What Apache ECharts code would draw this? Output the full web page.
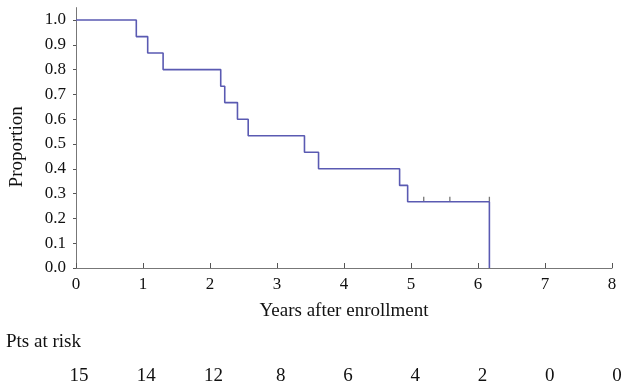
<!DOCTYPE html>
<html><head><meta charset="utf-8">
<script src="https://cdn.jsdelivr.net/npm/echarts@6/dist/echarts.min.js"></script>
<style>html,body{margin:0;padding:0;background:#fff}#c{width:625px;height:388px}</style>
</head><body><div id="c"></div>
<script>
const times = [0, 0.90, 1.07, 1.30, 2.16, 2.22, 2.41, 2.57, 3.41, 3.62, 4.83, 4.95, 6.17, 6.17];
const survival = [1.0, 0.933, 0.867, 0.8, 0.733, 0.667, 0.6, 0.533, 0.467, 0.4, 0.333, 0.267, 0.267, 0.0];
const censorTimes = [5.19, 5.58, 6.17];
const censorValues = [0.267, 0.267, 0.267];
const yTicks = [0, 0.1, 0.2, 0.3, 0.4, 0.5, 0.6, 0.7, 0.8, 0.9, 1.0];
const atRiskYears = [0, 1, 2, 3, 4, 5, 6, 7, 8];
const atRisk = [15, 14, 12, 8, 6, 4, 2, 0, 0];

const font = 'Liberation Serif';
const big = {fontFamily: font, fontSize: 19, color: '#111'};
const tick = {fontFamily: font, fontSize: 17, color: '#111'};
const chart = echarts.init(document.getElementById('c'), null, {renderer: 'canvas'});
chart.setOption({
  animation: false,
  title: {text: 'Pts at risk', left: 6, top: 333, padding: 0,
    textStyle: {fontFamily: font, fontSize: 19, fontWeight: 'normal', color: '#111'}},
  grid: [
    {left: 74, right: 13, top: 7.6, bottom: 120, containLabel: false},
    {left: 79, right: 8, top: 366, height: 1, containLabel: false}
  ],
  xAxis: [
    {type: 'value', gridIndex: 0, min: 0, max: 8, interval: 1,
      name: 'Years after enrollment', nameLocation: 'middle', nameGap: 34,
      nameTextStyle: big,
      axisLine: {lineStyle: {color: '#777', width: 1}},
      axisTick: {inside: true, length: 5, lineStyle: {color: '#555'}},
      axisLabel: Object.assign({margin: 8}, tick),
      splitLine: {show: false}},
    {type: 'value', gridIndex: 1, min: 0, max: 8, interval: 1,
      axisLine: {show: false}, axisTick: {show: false}, splitLine: {show: false},
      axisLabel: Object.assign({margin: 0, hideOverlap: false, showMinLabel: true, showMaxLabel: true,
        formatter: v => { const i = atRiskYears.indexOf(v); return i >= 0 ? String(atRisk[i]) : ''; }}, big)}
  ],
  yAxis: [
    {type: 'value', gridIndex: 0, min: 0, max: 1.05,
      name: 'Proportion', nameLocation: 'middle', nameGap: 49,
      nameTextStyle: Object.assign({padding: [0, 0, 0, -18]}, big),
      axisLine: {show: true, lineStyle: {color: '#777', width: 1}},
      axisTick: {show: true, length: 3, customValues: yTicks, lineStyle: {color: '#555'}},
      axisLabel: Object.assign({margin: 10, customValues: yTicks, formatter: v => v.toFixed(1)}, tick),
      splitLine: {show: false}},
    {type: 'value', gridIndex: 1, show: false, min: 0, max: 1}
  ],
  series: [
    {type: 'line', xAxisIndex: 0, yAxisIndex: 0, step: 'end', showSymbol: false,
      data: times.map((t, i) => [t, survival[i]]),
      lineStyle: {color: '#5a5ab2', width: 1.6}},
    {type: 'scatter', xAxisIndex: 0, yAxisIndex: 0,
      data: censorTimes.map((t, i) => [t, censorValues[i]]),
      symbol: 'rect', symbolSize: [1.3, 5], symbolOffset: [0, -2.5],
      itemStyle: {color: '#555'}}
  ]
});
</script></body></html>
